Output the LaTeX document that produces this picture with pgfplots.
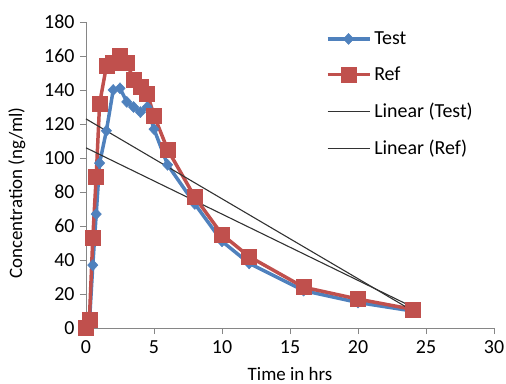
\documentclass[border=0pt]{standalone}
\usepackage{pgfplots}
\pgfplotsset{compat=1.18}
\usepackage{fontspec}
\setmainfont{Carlito}
\definecolor{xlblue}{RGB}{79,129,189}
\definecolor{xlred}{RGB}{192,80,77}
\definecolor{axgray}{RGB}{134,134,134}
\definecolor{trend}{RGB}{50,50,50}
\begin{document}
\begin{tikzpicture}
\begin{axis}[
  scale only axis,
  width=408bp, height=306bp,
  xmin=0, xmax=30, ymin=0, ymax=180,
  xtick={0,5,...,30}, ytick={0,20,...,180},
  axis x line*=bottom, axis y line*=left,
  axis line style={axgray, line width=0.8pt, -},
  tick style={axgray, line width=0.8pt},
  tick align=outside, major tick length=6bp,
  /pgf/number format/assume math mode=true,
  tick label style={font=\fontsize{20}{24}\selectfont, text=black},
  xticklabel style={yshift=-3bp},
  yticklabel style={xshift=-2bp},
  xlabel={Time in hrs}, ylabel={Concentration (ng/ml)},
  label style={font=\fontsize{19}{23}\selectfont},
  xlabel style={yshift=-7bp},
  ylabel style={yshift=12bp, xshift=-18bp},
  clip=false,
  legend style={at={(0.58,0.985)}, anchor=north west, draw=none, fill=none,
    font=\fontsize{20}{24}\selectfont, row sep=15bp,
    legend cell align=left, nodes={inner sep=3bp}},
  legend image code/.code={\draw[mark repeat=2,mark phase=2] plot coordinates {(0cm,0cm) (0.74cm,0cm) (1.48cm,0cm)};},
]
\addplot[xlblue, line width=3.5pt, mark=diamond*, mark size=5.5bp, mark options={solid, fill=xlblue, draw=xlblue, line width=0.5pt, xscale=1.25}] coordinates {
(0,0) (0.25,3) (0.5,37) (0.75,67) (1,97) (1.5,116) (2,140) (2.5,141) (3,133) (3.5,130) (4,127) (4.5,130) (5,117) (6,96) (8,73) (10,51) (12,38) (16,22) (20,15) (24,10)
};
\addlegendentry{Test}
\addplot[xlred, line width=3.5pt, mark=square*, mark size=7.5bp, mark options={solid, fill=xlred, draw=xlred, line width=0.5pt}] coordinates {
(0,0) (0.25,5) (0.5,53) (0.75,89) (1,132) (1.5,154) (2,156) (2.5,160) (3,156) (3.5,146) (4,142) (4.5,138) (5,125) (6,105) (8,77) (10,55) (12,42) (16,24) (20,17) (24,11)
};
\addlegendentry{Ref}
\addplot[trend, line width=1.1pt] coordinates {(0,106) (24,12.4)};
\addlegendentry{Linear (Test)}
\addplot[trend, line width=1.1pt] coordinates {(0,123) (24,10.2)};
\addlegendentry{Linear (Ref)}
\coordinate (sw) at (rel axis cs:0,0);
\coordinate (ne) at (rel axis cs:1,1);
\end{axis}
\pgfresetboundingbox
\path[use as bounding box] ([shift={(-86bp,-56bp)}]sw) rectangle ([shift={(12bp,22bp)}]ne);
\end{tikzpicture}
\end{document}
